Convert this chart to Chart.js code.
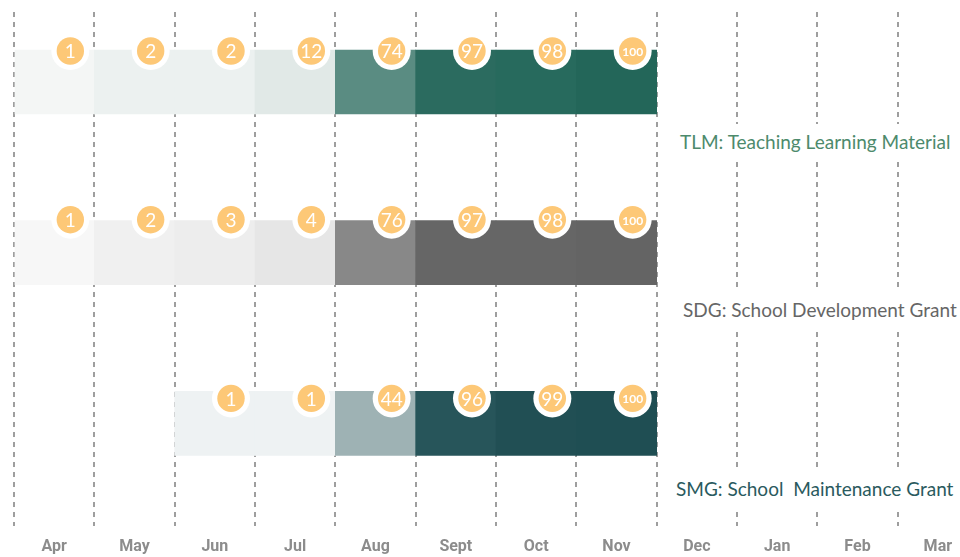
<!DOCTYPE html>
<html>
<head>
<meta charset="utf-8">
<script src="https://cdn.jsdelivr.net/npm/chart.js@4/dist/chart.umd.min.js"></script>
<style>
  html, body { margin: 0; padding: 0; background: #fff; overflow: hidden; }
  #wrap { position: relative; width: 990px; height: 557px; }
  .rowTitle {
    position: absolute;
    background: #fff;
    padding: 6px 6px;
    font-family: Lato, "Open Sans", sans-serif;
    font-size: 19px;
    line-height: 24px;
    white-space: pre;
  }
</style>
</head>
<body>
<div id="wrap">
  <canvas id="chart" width="990" height="557"></canvas>
</div>
<script>
const months = ["Apr", "May", "Jun", "Jul", "Aug", "Sept", "Oct", "Nov", "Dec", "Jan", "Feb", "Mar"];
const rowNames = ["TLM: Teaching Learning Material", "SDG: School Development Grant", "SMG: School  Maintenance Grant"];

// % completados por mes
const tlmValues = [1, 2, 2, 12, 74, 97, 98, 100, null, null, null, null];
const sdgValues = [1, 2, 3, 4, 76, 97, 98, 100, null, null, null, null];
const smgValues = [null, null, 1, 1, 44, 96, 99, 100, null, null, null, null];

// Cores
const tlmColors = ["#f4f6f5", "#ecf1f0", "#ecf1f0", "#e1e9e7", "#5a8c82", "#2b6b5f", "#276a5d", "#236659"];
const sdgColors = ["#f7f7f7", "#f0f0f0", "#ededed", "#e6e6e6", "#888888", "#666666", "#666666", "#646464"];
const smgColors = [null, null, "#eef2f3", "#eef2f3", "#9eb2b4", "#27555a", "#214f54", "#1f4e53"];
const titleColors = ["#4d8a6c", "#666666", "#2a5a5e"];
const titlePos = [[674, 124], [677, 292], [670, 471]];
const circleDrop = [1, -1, 7];
const orange = "#fdc877";

function rowData(values, row) {
  return values
    .map((v, i) => (v == null ? null : { x: [i, i + 1], y: row, m: i, v: v }))
    .filter((d) => d);
}

const rows = [
  { values: tlmValues, colors: tlmColors },
  { values: sdgValues, colors: sdgColors },
  { values: smgValues, colors: smgColors },
];

const datasets = rows.map((r, row) => ({
  label: rowNames[row],
  data: rowData(r.values, row),
  backgroundColor: (ctx) => (ctx.raw ? r.colors[ctx.raw.m] : "transparent"),
  borderWidth: 0,
  grouped: false,
  barThickness: 64,
}));

// bolinhas com o valor no topo de cada barra
const circlePlugin = {
  id: "circles",
  afterDraw(chart) {
    const ctx = chart.ctx;
    chart.data.datasets.forEach((ds, di) => {
      const meta = chart.getDatasetMeta(di);
      meta.data.forEach((el, j) => {
        const raw = ds.data[j];
        const cx = el.x - 24;
        const cy = el.y - el.height / 2 + circleDrop[di];
        ctx.save();
        ctx.beginPath();
        ctx.arc(cx, cy, 19, 0, Math.PI * 2);
        ctx.fillStyle = "#ffffff";
        ctx.fill();
        ctx.beginPath();
        ctx.arc(cx, cy, 13.7, 0, Math.PI * 2);
        ctx.fillStyle = orange;
        ctx.fill();
        ctx.fillStyle = "#ffffff";
        ctx.textAlign = "center";
        ctx.textBaseline = "middle";
        if (raw.v >= 100) {
          ctx.font = "bold 12px Lato, sans-serif";
        } else {
          ctx.font = "19px Lato, sans-serif";
        }
        ctx.fillText(String(raw.v), cx, cy + 1);
        ctx.restore();
      });
    });
  },
};

new Chart(document.getElementById("chart").getContext("2d"), {
  type: "bar",
  data: { datasets: datasets },
  options: {
    indexAxis: "y",
    responsive: false,
    animation: false,
    devicePixelRatio: 1,
    layout: { padding: { left: 14, right: 10, top: 12, bottom: -12 } },
    plugins: {
      legend: { display: false },
      tooltip: { enabled: false },
    },
    scales: {
      x: {
        type: "linear",
        min: 0,
        max: months.length,
        z: 1,
        afterBuildTicks: (axis) => {
          const t = [];
          for (let k = 0; k <= months.length * 2; k++) t.push({ value: k / 2 });
          axis.ticks = t;
        },
        border: { display: false, dash: [5, 5] },
        grid: {
          drawTicks: false,
          lineWidth: 2,
          color: (c) => (c.tick && Number.isInteger(c.tick.value) ? "#9e9e9e" : "transparent"),
        },
        ticks: {
          autoSkip: false,
          maxRotation: 0,
          minRotation: 0,
          padding: 12,
          color: "#8c8c8c",
          font: { family: "Roboto", weight: "bold", size: 16 },
          callback: (value) => (value % 1 === 0.5 ? months[Math.floor(value)] : ""),
        },
      },
      y: {
        type: "linear",
        display: false,
        reverse: true,
        offset: false,
        min: -0.41,
        max: 2.6,
      },
    },
  },
  plugins: [circlePlugin],
});

// títulos das linhas
const wrap = document.getElementById("wrap");
rowNames.forEach((name, k) => {
  const d = document.createElement("div");
  d.className = "rowTitle";
  d.textContent = name;
  d.style.color = titleColors[k];
  d.style.left = titlePos[k][0] + "px";
  d.style.top = titlePos[k][1] + "px";
  wrap.append(d);
});
</script>
</body>
</html>
